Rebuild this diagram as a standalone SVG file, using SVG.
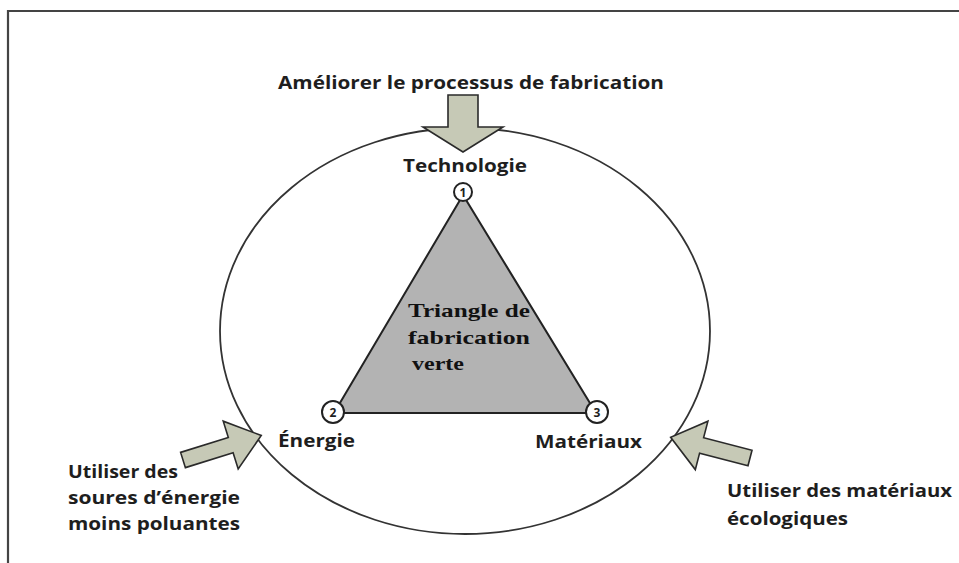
<svg xmlns="http://www.w3.org/2000/svg" width="959" height="563" viewBox="0 0 959 563">
  <style>
    .lbl { font-family: "Open Sans", "Liberation Sans", sans-serif; font-weight: bold; font-size: 17px; fill: #1e1e1e; }
    .num { font-family: "Open Sans", "Liberation Sans", sans-serif; font-weight: bold; font-size: 12px; fill: #1e1e1e; text-anchor: middle; }
    .core { font-family: "Liberation Serif", "Times New Roman", serif; font-weight: bold; font-size: 19px; fill: #111; }
    .arrow { fill: #c6c9b6; stroke: #2a2a2a; stroke-width: 1.6; stroke-linejoin: miter; }
    .ring { fill: none; stroke: #333; stroke-width: 1.8; }
    .badge { fill: #fff; stroke: #222; stroke-width: 2; }
  </style>

  <defs>
    <!-- block arrow pointing along +x, tail centred on the origin -->
    <polygon id="blockArrow" class="arrow" points="0,-8 50,-8 50,-25 82,0 50,25 50,8 0,8"/>
  </defs>

  <rect width="959" height="563" fill="#fff"/>
  <!-- page frame -->
  <path d="M8,563 V11 H959" fill="none" stroke="#444" stroke-width="2.2"/>

  <!-- outer circle -->
  <g id="enclosure">
    <ellipse class="ring" cx="465" cy="331" rx="245" ry="203"/>
  </g>

  <!-- central triangle -->
  <g id="triangle">
    <polygon points="463,195 334,413 596,413" fill="#b3b3b3" stroke="#222" stroke-width="2"/>
    <text class="core" x="408" y="317" textLength="122" lengthAdjust="spacingAndGlyphs">Triangle de</text>
    <text class="core" x="408" y="344" textLength="122" lengthAdjust="spacingAndGlyphs">fabrication</text>
    <text class="core" x="412" y="370" textLength="52" lengthAdjust="spacingAndGlyphs">verte</text>
  </g>

  <g id="technologie">
    <circle class="badge" cx="463" cy="192" r="9"/>
    <text class="num" x="463" y="196.5">1</text>
    <text class="lbl" x="403" y="172" textLength="124" lengthAdjust="spacingAndGlyphs">Technologie</text>
  </g>

  <g id="energie">
    <circle class="badge" cx="333" cy="412" r="11"/>
    <text class="num" x="333" y="416.5">2</text>
    <text class="lbl" x="278" y="447" textLength="77" lengthAdjust="spacingAndGlyphs">Énergie</text>
  </g>

  <g id="materiaux">
    <circle class="badge" cx="597" cy="412" r="11"/>
    <text class="num" x="597" y="416.5">3</text>
    <text class="lbl" x="535" y="448" textLength="107" lengthAdjust="spacingAndGlyphs">Matériaux</text>
  </g>

  <!-- inbound block arrows -->
  <g id="connectors">
    <polygon class="arrow" points="448,95 478,95 478,127 503,127 463,152 423,127 448,127"/>
    <use href="#blockArrow" transform="translate(183,460) rotate(-17.4)"/>
    <use href="#blockArrow" transform="translate(750,458) rotate(194.6)"/>
  </g>

  <g id="procede">
    <text class="lbl" x="278" y="89" textLength="386" lengthAdjust="spacingAndGlyphs">Améliorer le processus de fabrication</text>
  </g>

  <g id="sources">
    <text class="lbl" x="68" y="478" textLength="110" lengthAdjust="spacingAndGlyphs">Utiliser des</text>
    <text class="lbl" x="68" y="504" textLength="172" lengthAdjust="spacingAndGlyphs">soures d’énergie</text>
    <text class="lbl" x="68" y="530" textLength="172" lengthAdjust="spacingAndGlyphs">moins poluantes</text>
  </g>

  <g id="ecologie">
    <text class="lbl" x="727" y="497" textLength="225" lengthAdjust="spacingAndGlyphs">Utiliser des matériaux</text>
    <text class="lbl" x="727" y="525" textLength="121" lengthAdjust="spacingAndGlyphs">écologiques</text>
  </g>
</svg>
